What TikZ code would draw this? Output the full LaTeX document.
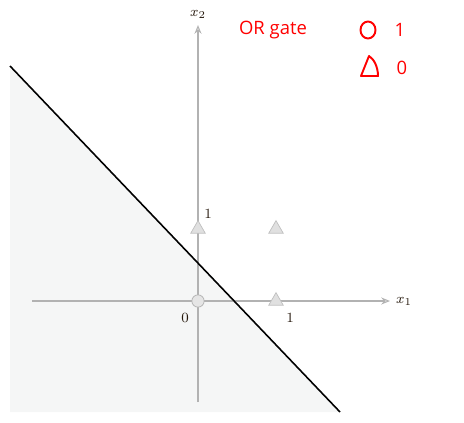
\documentclass[tikz,border=0pt]{standalone}
\usepackage{amsmath,amssymb}
\usepackage{fontspec}
\newfontfamily\notefont{Open Sans}
\usetikzlibrary{shapes.geometric,arrows.meta}

\definecolor{regionfill}{RGB}{245,246,246}

\begin{document}
\begin{tikzpicture}[x=0.02cm,y=-0.02cm,
    axis/.style={draw=black!30,line width=0.6pt,-{Stealth[length=5pt,width=4pt,open]}},
    zero/.style={regular polygon,regular polygon sides=3,draw=black!25,fill=black!12,
      inner sep=0pt,minimum size=9.5pt},
    one/.style={circle,draw=black!30,fill=black!10,inner sep=0pt,minimum size=7pt},
    lab/.style={font=\fontsize{8.5}{10}\selectfont,text=black!80!brown},
    note/.style={text=red,font=\notefont\fontsize{10.5}{12}\selectfont}]
  \useasboundingbox (0,0) rectangle (464,423);

  \coordinate (O) at (198,301);
  \coordinate (L1) at (10,66);
  \coordinate (L2) at (340,412);

  % region below the separating line
  \fill[regionfill] (L1) -- (L2) -- (10,412) -- cycle;

  % axes
  \coordinate (XL) at (32,301);
  \coordinate (XR) at (390,301);
  \coordinate (YB) at (198,402);
  \coordinate (YT) at (198,25);
  \draw[axis] (XL) -- (XR);
  \draw[axis] (YB) -- (YT);

  % separating line
  \draw[line width=0.9pt] (L1) -- (L2);

  % points
  \node[one]  (p00) at (O) {};
  \node[zero] (p01) at (198,229) {};
  \node[zero] (p11) at (276,229) {};
  \node[zero] (p10) at (276,301) {};

  \node[lab,anchor=west] (x1) at (XR) {$x_1$};
  \node[lab,anchor=south] (x2) at (YT) {$x_2$};
  \node[lab] (n0) at (185,318) {$0$};
  \node[lab] (nx) at (290,318) {$1$};
  \node[lab] (ny) at (208,214) {$1$};

  % legend
  \node[note] (title) at (273,30) {OR gate};
  \draw[red,line width=1.1pt] (368,30) ellipse (7.5 and 8.5);
  \node[note] (l1) at (400,30) {1};
  \draw[red,line width=1.1pt,line join=round]
    (361,76) -- (369,56) .. controls (374,59) and (378,67) .. (378,76) -- cycle;
  \node[note] (l0) at (402,68) {0};
\end{tikzpicture}
\end{document}
